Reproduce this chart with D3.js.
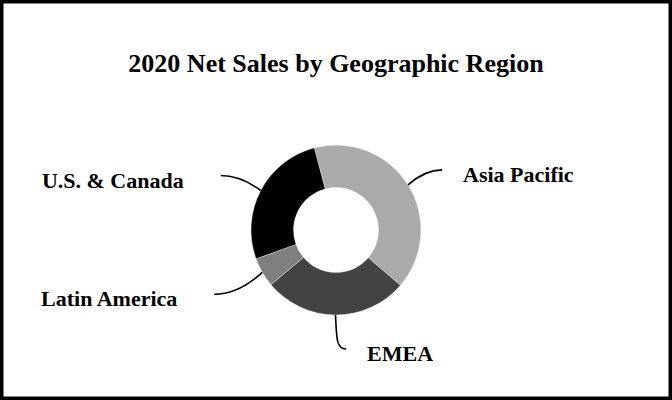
<!DOCTYPE html>
<html>
<head>
<meta charset="utf-8">
<script src="https://cdn.jsdelivr.net/npm/d3@7"></script>
<style>
  html, body { margin: 0; padding: 0; background: #fff; }
  svg { display: block; }
</style>
</head>
<body>
<svg id="chart" width="672" height="400"></svg>
<script>
// ---- data ----
const title = "2020 Net Sales by Geographic Region";
const regions = ["Asia Pacific", "EMEA", "Latin America", "U.S. & Canada"];
const shares = [40.4, 27.6, 5.6, 26.4];
const colors = ["#aaaaaa", "#434343", "#7f7f7f", "#000000"];

// ---- layout ----
const W = 672, H = 400;
const cx = 336, cy = 230;
const outerR = 85, innerR = 42.5;
const startDeg = -14.8;
// leader-line end offsets relative to the slice anchor, plus label side
const leaders = [
  { dx: 34,  dy: -15, side: "right" },
  { dx: 10.5, dy: 34, side: "right", vertical: true },
  { dx: -48, dy: 22,  side: "left" },
  { dx: -40, dy: -15, side: "left" }
];

const svg = d3.select("#chart");
svg.append("rect").attr("x", 0).attr("y", 0).attr("width", W).attr("height", H).attr("fill", "#fff");
svg.append("rect")
  .attr("x", 1.75).attr("y", 1.75).attr("width", W - 3.5).attr("height", H - 3.5)
  .attr("fill", "none").attr("stroke", "#000").attr("stroke-width", 3.5);

svg.append("text")
  .attr("x", W / 2).attr("y", 72)
  .attr("text-anchor", "middle")
  .attr("font-family", "'Liberation Serif', 'Times New Roman', serif")
  .attr("font-weight", "bold").attr("font-size", 26)
  .text(title);

const data = regions.map((r, i) => ({ region: r, value: shares[i], color: colors[i], leader: leaders[i] }));

const start = startDeg * Math.PI / 180;
const pie = d3.pie().value(d => d.value).sort(null).startAngle(start).endAngle(start + 2 * Math.PI);
const arc = d3.arc().innerRadius(innerR).outerRadius(outerR);
const arcs = pie(data);

const g = svg.append("g").attr("transform", `translate(${cx},${cy})`);
g.selectAll("path.slice").data(arcs).join("path")
  .attr("class", "slice")
  .attr("d", arc)
  .attr("fill", d => d.data.color)
  .attr("stroke", "#fff").attr("stroke-width", 0.4);

function anchorPoint(d) {
  const a = (d.startAngle + d.endAngle) / 2;
  return [outerR * Math.sin(a), -outerR * Math.cos(a)];
}

g.selectAll("path.leader").data(arcs).join("path")
  .attr("class", "leader")
  .attr("fill", "none").attr("stroke", "#000").attr("stroke-width", 1.6)
  .attr("d", d => {
    const [x0, y0] = anchorPoint(d);
    const L = d.data.leader;
    const x1 = x0 + L.dx, y1 = y0 + L.dy;
    const p = d3.path();
    p.moveTo(x0, y0);
    if (L.vertical) {
      p.bezierCurveTo(x0 + 1, y1 - 10, x0 + 1, y1, x1, y1);
    } else {
      const cxp = x1 - L.dx * 0.5;
      p.quadraticCurveTo(cxp, y1, x1, y1);
    }
    return p.toString();
  });

g.selectAll("text.label").data(arcs).join("text")
  .attr("class", "label")
  .attr("font-family", "'Liberation Serif', 'Times New Roman', serif")
  .attr("font-weight", "bold").attr("font-size", 22)
  .attr("text-anchor", d => d.data.leader.side === "right" ? "start" : "end")
  .attr("x", d => {
    const [x0] = anchorPoint(d);
    const L = d.data.leader;
    return x0 + L.dx + (L.side === "right" ? 21 : -37);
  })
  .attr("y", d => {
    const [, y0] = anchorPoint(d);
    return y0 + d.data.leader.dy + 12;
  })
  .text(d => d.data.region);
</script>
</body>
</html>
